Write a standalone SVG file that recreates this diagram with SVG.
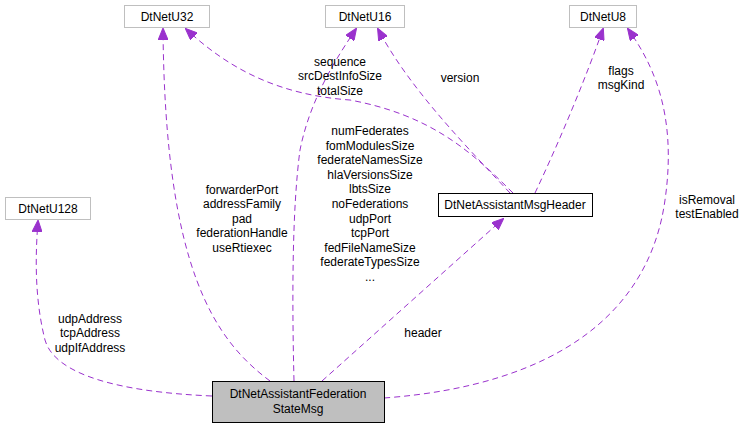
<svg xmlns="http://www.w3.org/2000/svg" width="748" height="429" viewBox="0 0 748 429">
<style>
text{font-family:"Liberation Sans",Arial,sans-serif;font-size:12px;text-anchor:middle;fill:#000}
.n{fill:#fff;stroke:#bfbfbf;stroke-width:1}
.e{fill:none;stroke:#9a32cd;stroke-width:1;stroke-dasharray:6,4;marker-end:url(#a)}
</style>
<defs><marker id="a" markerWidth="12" markerHeight="10" refX="11" refY="5" orient="auto" markerUnits="userSpaceOnUse"><path d="M0,0L12,5L0,10z" fill="#9a32cd" stroke="#9a32cd"/></marker></defs>
<rect width="748" height="429" fill="#fff"/>
<g id="connectors">
<path class="e" d="M270,381 C215,340 165,270 163,29"/>
<path class="e" d="M294,381 C292,300 292,210 300,150 C310,100 335,60 356,29"/>
<path class="e" d="M322,381 L503,219"/>
<path class="e" d="M212,396 C120,392 55,375 45,340 C35,300 35,260 38,221"/>
<path class="e" d="M384,398 C560,385 650,310 665,200 C678,110 650,60 628,29"/>
<path class="e" d="M513,193 C470,150 430,115 350,100 C280,95 230,70 186,29"/>
<path class="e" d="M510,193 C470,150 410,90 378,29"/>
<path class="e" d="M535,193 C560,140 585,80 603,29"/>
</g>
<g id="DtNetU32"><rect class="n" x="124.5" y="5.5" width="85" height="22"/><text x="167" y="21">DtNetU32</text></g>
<g id="DtNetU16"><rect class="n" x="325.5" y="5.5" width="79" height="22"/><text x="365" y="21">DtNetU16</text></g>
<g id="DtNetU8"><rect class="n" x="569.5" y="5.5" width="67" height="22"/><text x="603" y="21">DtNetU8</text></g>
<g id="DtNetU128"><rect class="n" x="5.5" y="197.5" width="85" height="22"/><text x="48" y="213">DtNetU128</text></g>
<g id="DtNetAssistantMsgHeader"><rect x="438.5" y="193.5" width="154" height="23" fill="#fff" stroke="#000"/><text x="515" y="209">DtNetAssistantMsgHeader</text></g>
<g id="DtNetAssistantFederationStateMsg"><rect x="212.5" y="381.5" width="172" height="41" fill="#bfbfbf" stroke="#000"/><text x="298" y="398">DtNetAssistantFederation</text><text x="298" y="413">StateMsg</text></g>
<g id="labels">
<text x="340" y="66">sequence</text><text x="340" y="80">srcDestInfoSize</text><text x="340" y="95">totalSize</text>
<text x="460" y="82">version</text>
<text x="621" y="75">flags</text><text x="621" y="89">msgKind</text>
<text x="370" y="135">numFederates</text><text x="370" y="150">fomModulesSize</text><text x="370" y="164">federateNamesSize</text><text x="370" y="179">hlaVersionsSize</text><text x="370" y="193">lbtsSize</text><text x="370" y="208">noFederations</text><text x="370" y="223">udpPort</text><text x="370" y="237">tcpPort</text><text x="370" y="252">fedFileNameSize</text><text x="370" y="266">federateTypesSize</text><text x="370" y="281">...</text>
<text x="242" y="194">forwarderPort</text><text x="242" y="208">addressFamily</text><text x="242" y="223">pad</text><text x="242" y="237">federationHandle</text><text x="242" y="252">useRtiexec</text>
<text x="707" y="204">isRemoval</text><text x="707" y="218">testEnabled</text>
<text x="90" y="323">udpAddress</text><text x="90" y="337">tcpAddress</text><text x="90" y="352">udpIfAddress</text>
<text x="423" y="337">header</text>
</g>
</svg>
